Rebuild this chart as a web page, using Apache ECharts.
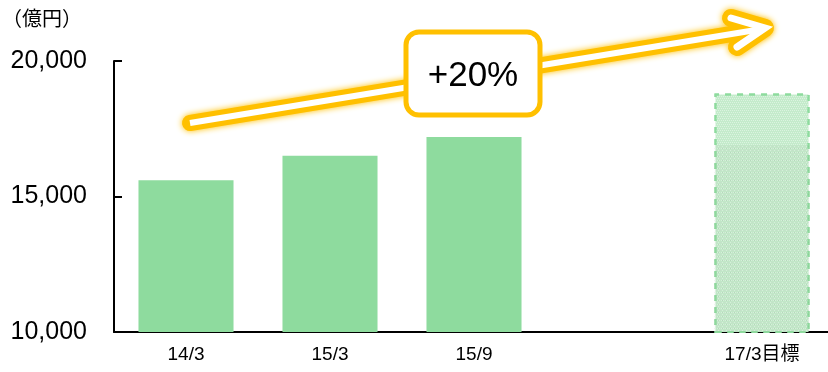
<!DOCTYPE html>
<html>
<head>
<meta charset="utf-8">
<script src="https://cdn.jsdelivr.net/npm/echarts@6/dist/echarts.min.js"></script>
<style>
  html, body { margin: 0; padding: 0; background: #fff; overflow: hidden; }
  /* the plot runs slightly past the right edge of the window */
  #chart { width: 834px; height: 372px; }
</style>
</head>
<body>
<div id="chart"></div>
<script>
// Period labels (the fourth slot is an empty gap before the target)
const categories = ['14/3', '15/3', '15/9', '', '17/3目標'];
// Actual results (億円)
const actualValues = [15600, 16500, 17200, null, null];
// Target for 17/3 (億円)
const targetValues = [null, null, null, null, 18800];
// Lower shaded section of the target bar
const targetBaseValues = [null, null, null, null, 16900];
// Y axis range
const yMin = 10000, yMax = 20000, yStep = 5000;

const FONT = "'Liberation Sans', Arial, 'Noto Sans CJK JP', sans-serif";
const GREEN = '#8EDB9E';
const GOLD = '#FFC000';
const BAR_W = '66%';

const chart = echarts.init(document.getElementById('chart'), null, { renderer: 'canvas' });

// Rising arrow: shaft + open chevron head
const shaft = [[190, 123], [762, 29]];
const head = [[731, 18], [765, 28], [737, 47]];

chart.setOption({
  animation: false,
  grid: { left: 114, right: 0, top: 61, bottom: 40, containLabel: false },
  xAxis: {
    type: 'category',
    data: categories,
    axisLine: { lineStyle: { color: '#000', width: 2 } },
    axisTick: { show: false },
    axisLabel: { color: '#000', fontSize: 19, fontFamily: FONT, margin: 13,
      rich: {} }
  },
  yAxis: {
    type: 'value',
    min: yMin, max: yMax, interval: yStep,
    axisLine: { show: true, lineStyle: { color: '#000', width: 2 } },
    axisTick: { show: true, inside: true, length: 8, lineStyle: { color: '#000', width: 2 } },
    splitLine: { show: false },
    axisLabel: {
      color: '#000', fontSize: 25, fontFamily: FONT, margin: 27,
      formatter: v => v.toLocaleString('en-US')
    }
  },
  series: [
    {
      type: 'bar', data: actualValues, barWidth: BAR_W, barGap: '-100%',
      itemStyle: { color: GREEN }
    },
    {
      type: 'bar', data: targetValues, barWidth: BAR_W, barGap: '-100%',
      itemStyle: {
        color: '#C4EBCB',
        borderColor: GREEN, borderWidth: 2, borderType: [6, 6],
        decal: {
          symbol: 'rect', symbolSize: 1,
          dashArrayX: [[1, 1], [0, 1, 1, 0]], dashArrayY: [1, 1],
          color: 'rgba(255,255,255,0.4)'
        }
      }
    },
    {
      type: 'bar', data: targetBaseValues, barWidth: BAR_W, barGap: '-100%',
      itemStyle: {
        color: 'rgba(150,185,155,0.07)',
        decal: {
          symbol: 'rect', symbolSize: 1,
          dashArrayX: [[1, 3], [0, 2, 1, 1]], dashArrayY: [1, 1],
          color: 'rgba(120,140,125,0.16)'
        }
      }
    }
  ],
  graphic: [
    {
      type: 'text', left: 2, top: 8,
      style: { text: '（億円）', fontSize: 20, fontFamily: "'Noto Sans CJK JP', sans-serif", fill: '#000' }
    },
    // gold glow under the arrow
    {
      type: 'polyline', z: 100,
      shape: { points: shaft },
      style: { stroke: GOLD, lineWidth: 16, lineCap: 'round', shadowBlur: 6, shadowColor: GOLD, fill: null }
    },
    {
      type: 'polyline', z: 100,
      shape: { points: head },
      style: { stroke: GOLD, lineWidth: 18, lineCap: 'round', lineJoin: 'round', shadowBlur: 6, shadowColor: GOLD, fill: null }
    },
    // white arrow body
    {
      type: 'polyline', z: 101,
      shape: { points: shaft },
      style: { stroke: '#fff', lineWidth: 6, lineCap: 'butt', fill: null }
    },
    {
      type: 'polyline', z: 101,
      shape: { points: head },
      style: { stroke: '#fff', lineWidth: 7, lineCap: 'round', lineJoin: 'miter', fill: null }
    },
    // growth label box
    {
      type: 'rect', z: 102,
      shape: { x: 406, y: 32, width: 134, height: 83, r: 13 },
      style: { fill: '#fff', stroke: GOLD, lineWidth: 5 }
    },
    {
      type: 'text', z: 103, x: 473, y: 76,
      style: { text: '+20%', fontSize: 35, fontFamily: FONT, fill: '#000', align: 'center', verticalAlign: 'middle' }
    }
  ]
});
</script>
</body>
</html>
